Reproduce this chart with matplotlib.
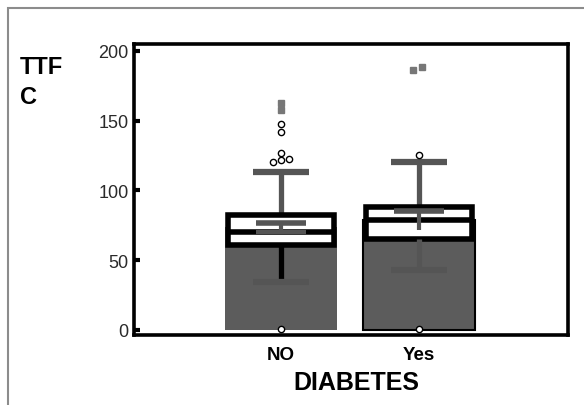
import matplotlib
matplotlib.use('Agg')
import matplotlib.pyplot as plt
from matplotlib.patches import Rectangle
import numpy as np

plt.rcParams['font.family'] = ['Liberation Sans', 'DejaVu Sans']

# data
categories = ['NO', 'Yes']
bar_means = [74, 79]
q1 = [61, 65]
medians = [70, 78.5]
q3 = [82.5, 88.5]
whisker_low = [34.5, 43]
whisker_high = [113.5, 120.5]
ci_low = [70, 72]
ci_high = [76.5, 85]
outliers = [[120.5, 121.5, 122.5, 127, 142, 147.5, 1], [125.7, 1]]
extremes = [[158, 163], [186, 188.5]]
yticks = [0, 50, 100, 150, 200]

# style
gray = '#555555'
outlier_dx = [[-0.055, 0, 0.06, 0, 0, 0, 0], [0, 0]]
extreme_dx = [[0, 0], [-0.045, 0.025]]
low_whisker_colors = ['black', gray]
bar_edges = ['none', 'black']
low_ci_cap = [True, False]

fig = plt.figure(figsize=(5.84, 4.06), dpi=100)
ax = fig.add_axes([0.2295, 0.1724, 0.7431, 0.7168])

x = np.arange(len(categories))
ax.bar(x, bar_means, width=0.81, color='#5c5c5c', edgecolor=bar_edges, linewidth=1.5, zorder=1)

bw = 0.77
for i in x:
    ax.vlines(i, q3[i], whisker_high[i], color=gray, lw=3.8, zorder=1.5)
    ax.add_patch(Rectangle((i - bw / 2, q1[i]), bw, q3[i] - q1[i], facecolor='white',
                           edgecolor='black', lw=4, joinstyle='miter', zorder=2))
    ax.vlines(i, whisker_low[i], q1[i], color=low_whisker_colors[i], lw=3.8, zorder=2.5)
    ax.hlines(medians[i], i - bw / 2, i + bw / 2, color='black', lw=4, zorder=3)
    # mean error bar
    ax.vlines(i, ci_low[i], ci_high[i], color=gray, lw=3, zorder=4)
    ax.hlines(ci_high[i], i - 0.18, i + 0.18, color=gray, lw=4, zorder=4)
    if low_ci_cap[i]:
        ax.hlines(ci_low[i], i - 0.18, i + 0.18, color=gray, lw=3, zorder=4)
    # whisker caps
    ax.hlines([whisker_low[i], whisker_high[i]], i - 0.2, i + 0.2, color=gray, lw=4.5, zorder=4)
    ax.plot(i + np.array(outlier_dx[i]), outliers[i], 'o', mfc='white', mec='black',
            ms=4.5, mew=1, zorder=6, clip_on=False)
    ax.plot(i + np.array(extreme_dx[i]), extremes[i], 's', color='#777777', ms=5, zorder=6)

ax.set_xlim(-1.065, 2.08)
ax.set_ylim(-3.6, 205)
ax.set_xticks(x)
ax.set_xticklabels(categories, fontsize=13.5, fontweight='bold')
ax.set_yticks(yticks)
ax.tick_params(axis='y', direction='in', length=4, width=3, labelsize=13, labelcolor='#2a2a2a', pad=4)
ax.tick_params(axis='x', length=0, pad=8)
for s in ax.spines.values():
    s.set_linewidth(2.6)
ax.set_xlabel('DIABETES', fontsize=18, fontweight='bold', labelpad=5)
ax.xaxis.label.set_x(0.513)

fig.text(20 / 584, 1 - 67 / 406, 'TTF', fontsize=17, fontweight='bold', va='center', ha='left')
fig.text(20 / 584, 1 - 97 / 406, 'C', fontsize=17, fontweight='bold', va='center', ha='left')

fig.patches.append(Rectangle((8 / 584, -0.1), 1.2, 1.0778, fill=False, edgecolor='#8c8c8c',
                             lw=1.5, transform=fig.transFigure))

fig.savefig('out.png', dpi=100)
